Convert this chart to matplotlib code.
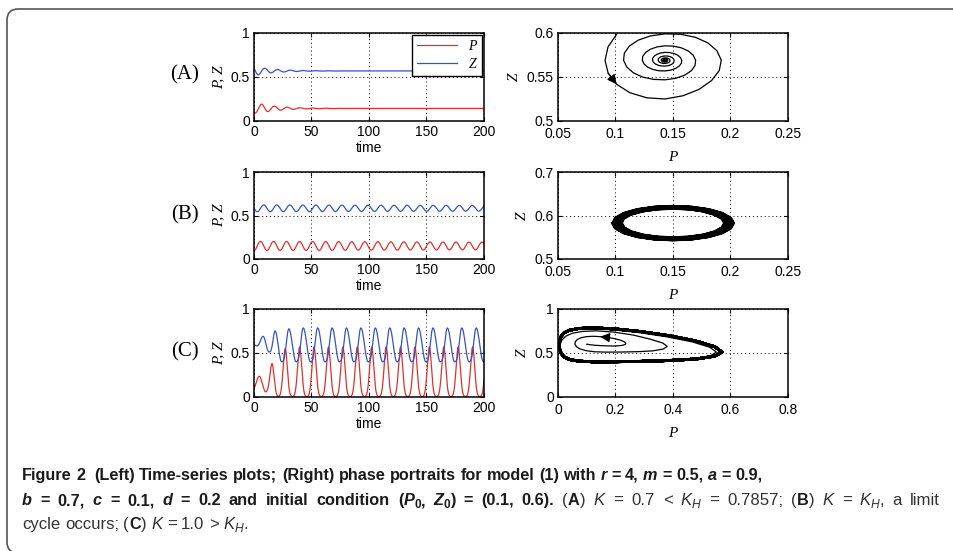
import numpy as np
import matplotlib
matplotlib.use('Agg')
import matplotlib.pyplot as plt
from matplotlib.patches import FancyBboxPatch
from matplotlib.ticker import FuncFormatter

# ---------------- values ----------------
# (A) K = 0.7 : damped oscillation, fine samples (dt = 5/9) up to t ~ 77, then settled values every 10
P_A = [.1009, .0935, .0909, .0936, .1010, .1126, .1271, .1430, .1587, .1727, .1835, .1902, .1920, .1882, .1803, .1693, .1564, .1430, .1304, .1198,
       .1120, .1077, .1070, .1098, .1156, .1237, .1331, .1430, .1523, .1602, .1659, .1691, .1697, .1676, .1633, .1573, .1503, .1430, .1361, .1303,
       .1261, .1237, .1233, .1248, .1280, .1324, .1376, .1430, .1481, .1524, .1555, .1573, .1576, .1565, .1541, .1508, .1470, .1430, .1392, .1361,
       .1337, .1324, .1322, .1330, .1348, .1372, .1400, .1430, .1458, .1481, .1499, .1508, .1510, .1504, .1491, .1473, .1452, .1430, .1409, .1392,
       .1379, .1372, .1371, .1376, .1385, .1398, .1414, .1430, .1445, .1458, .1468, .1473, .1474, .1470, .1463, .1453, .1442, .1430, .1419, .1409,
       .1402, .1398, .1398, .1400, .1405, .1413, .1421, .1430, .1438, .1445, .1451, .1453, .1454, .1452, .1448, .1443, .1437, .1430, .1424, .1419,
       .1415, .1413, .1412, .1414, .1417, .1421, .1425, .1430, .1435, .1438, .1441, .1443, .1443, .1442, .1440, .1437, .1434, .1430, .1427, .1424,
       .1430, .1430, .1430, .1430, .1430, .1430, .1430, .1430, .1430, .1430, .1430, .1430, .1430]
Z_A = [.5984, .5842, .5690, .5544, .5417, .5321, .5264, .5250, .5287, .5360, .5459, .5573, .5690, .5798, .5888, .5952, .5986, .5990, .5967, .5919,
       .5851, .5772, .5690, .5613, .5547, .5499, .5473, .5468, .5485, .5521, .5571, .5629, .5690, .5747, .5796, .5831, .5851, .5854, .5842, .5815,
       .5778, .5735, .5690, .5648, .5612, .5586, .5571, .5569, .5578, .5598, .5625, .5657, .5690, .5721, .5748, .5767, .5778, .5780, .5773, .5758,
       .5738, .5715, .5690, .5667, .5647, .5633, .5625, .5624, .5629, .5639, .5654, .5672, .5690, .5707, .5722, .5732, .5738, .5739, .5735, .5728,
       .5716, .5703, .5690, .5677, .5667, .5659, .5654, .5654, .5656, .5662, .5670, .5680, .5690, .5699, .5707, .5713, .5716, .5717, .5715, .5710,
       .5704, .5697, .5690, .5683, .5677, .5673, .5671, .5670, .5672, .5675, .5679, .5685, .5690, .5695, .5699, .5703, .5704, .5705, .5704, .5701,
       .5698, .5694, .5690, .5686, .5683, .5681, .5679, .5679, .5680, .5682, .5684, .5687, .5690, .5693, .5695, .5697, .5698, .5698, .5697, .5696,
       .5690, .5690, .5690, .5690, .5690, .5690, .5690, .5690, .5690, .5690, .5690, .5690, .5690]
t_A = np.concatenate([np.arange(140) * 5 / 9, np.arange(80, 201, 10)])

# (B) K = K_H : small sustained oscillation, 20 samples per period
P_B = [.0970, .0996, .1071, .1188, .1336, .15, .1664, .1812, .1929, .2004, .2030, .2004, .1929, .1812, .1664, .15, .1336, .1188, .1071, .0996,
       .0975, .1001, .1075, .1191, .1338, .15, .1662, .1809, .1925, .1999, .2025, .1999, .1925, .1809, .1662, .15, .1338, .1191, .1075, .1001,
       .0980, .1005, .1079, .1194, .1339, .15, .1661, .1806, .1921, .1995, .2020, .1995, .1921, .1806, .1661, .15, .1339, .1194, .1079, .1005,
       .0985, .1010, .1083, .1197, .1341, .15, .1659, .1803, .1917, .1990, .2015, .1990, .1917, .1803, .1659, .15, .1341, .1197, .1083, .1010,
       .0990, .1015, .1087, .1200, .1342, .15, .1658, .1800, .1913, .1985, .2010, .1985, .1913, .1800, .1658, .15, .1342, .1200, .1087, .1015,
       .0995, .1020, .1091, .1203, .1344, .15, .1656, .1797, .1909, .1980, .2005, .1980, .1909, .1797, .1656, .15, .1344, .1203, .1091, .1020,
       .1000, .1024, .1095, .1206, .1345, .15, .1655, .1794, .1905, .1976, .2000, .1976, .1905, .1794, .1655, .15, .1345, .1206, .1095, .1024,
       .1005, .1029, .1100, .1209, .1347, .15, .1653, .1791, .1900, .1971, .1995, .1971, .1900, .1791, .1653, .15, .1347, .1209, .1100, .1029,
       .1010, .1034, .1104, .1212, .1349, .15, .1651, .1788, .1896, .1966, .1990, .1966, .1896, .1788, .1651, .15, .1349, .1212, .1104, .1034,
       .1015, .1039, .1108, .1215, .1350, .15, .1650, .1785, .1892, .1961, .1985, .1961, .1892, .1785, .1650, .15, .1350, .1215, .1108, .1039,
       .1020, .1044, .1112, .1218, .1352, .15, .1648, .1782, .1888, .1956, .1980, .1956, .1888, .1782, .1648, .15, .1352, .1218, .1112, .1044,
       .1025, .1048, .1116, .1221, .1353, .15, .1647, .1779, .1884, .1952, .1975, .1952, .1884, .1779, .1647, .15, .1353, .1221, .1116, .1048,
       .1030, .1053, .1120, .1224, .1355, .15, .1645, .1776, .1880, .1947, .1970, .1947, .1880, .1776, .1645, .15, .1355, .1224, .1120, .1053,
       .1035, .1058, .1124, .1227, .1356, .15, .1644, .1773, .1876, .1942, .1965, .1942, .1876, .1773, .1644, .15, .1356, .1227, .1124, .1058,
       .1040, .1063, .1128, .1230, .1358, .15, .1642, .1770, .1872, .1937, .1960, .1937, .1872, .1770, .1642, .15, .1358, .1230, .1128, .1063,
       .1045, .1067, .1132, .1232, .1359, .15, .1641, .1768, .1868, .1933, .1955, .1933, .1868, .1768, .1641, .15, .1359, .1232, .1132, .1067,
       .1050, .1072, .1136, .1235, .1361, .15, .1639, .1765, .1864, .1928, .1950, .1928, .1864, .1765, .1639, .15, .1361, .1235, .1136, .1072,
       .1055, .1077, .1140, .1238, .1362, .15, .1638, .1762, .1860, .1923, .1945, .1923, .1860, .1762]
Z_B = [.5825, .5703, .5593, .5505, .5449, .5430, .5449, .5505, .5593, .5703, .5825, .5947, .6057, .6145, .6201, .6220, .6201, .6145, .6057, .5947,
       .5825, .5704, .5595, .5509, .5453, .5434, .5453, .5509, .5595, .5704, .5825, .5946, .6055, .6141, .6197, .6216, .6197, .6141, .6055, .5946,
       .5825, .5705, .5597, .5512, .5457, .5438, .5457, .5512, .5597, .5705, .5825, .5945, .6053, .6138, .6193, .6212, .6193, .6138, .6053, .5945,
       .5825, .5707, .5600, .5515, .5461, .5442, .5461, .5515, .5600, .5707, .5825, .5943, .6050, .6135, .6189, .6208, .6189, .6135, .6050, .5943,
       .5825, .5708, .5602, .5518, .5465, .5446, .5465, .5518, .5602, .5708, .5825, .5942, .6048, .6132, .6185, .6204, .6185, .6132, .6048, .5942,
       .5825, .5709, .5604, .5522, .5468, .5450, .5468, .5522, .5604, .5709, .5825, .5941, .6046, .6128, .6182, .6200, .6182, .6128, .6046, .5941,
       .5825, .5710, .5607, .5525, .5472, .5454, .5472, .5525, .5607, .5710, .5825, .5940, .6043, .6125, .6178, .6196, .6178, .6125, .6043, .5940,
       .5825, .5712, .5609, .5528, .5476, .5458, .5476, .5528, .5609, .5712, .5825, .5938, .6041, .6122, .6174, .6192, .6174, .6122, .6041, .5938,
       .5825, .5713, .5612, .5531, .5480, .5462, .5480, .5531, .5612, .5713, .5825, .5937, .6038, .6119, .6170, .6188, .6170, .6119, .6038, .5937,
       .5825, .5714, .5614, .5535, .5484, .5466, .5484, .5535, .5614, .5714, .5825, .5936, .6036, .6115, .6166, .6184, .6166, .6115, .6036, .5936,
       .5825, .5715, .5616, .5538, .5487, .5470, .5487, .5538, .5616, .5715, .5825, .5935, .6034, .6112, .6163, .6180, .6163, .6112, .6034, .5935,
       .5825, .5717, .5619, .5541, .5491, .5474, .5491, .5541, .5619, .5717, .5825, .5933, .6031, .6109, .6159, .6176, .6159, .6109, .6031, .5933,
       .5825, .5718, .5621, .5544, .5495, .5478, .5495, .5544, .5621, .5718, .5825, .5932, .6029, .6106, .6155, .6172, .6155, .6106, .6029, .5932,
       .5825, .5719, .5623, .5548, .5499, .5482, .5499, .5548, .5623, .5719, .5825, .5931, .6027, .6102, .6151, .6168, .6151, .6102, .6027, .5931,
       .5825, .5720, .5626, .5551, .5503, .5486, .5503, .5551, .5626, .5720, .5825, .5930, .6024, .6099, .6147, .6164, .6147, .6099, .6024, .5930,
       .5825, .5721, .5628, .5554, .5506, .5490, .5506, .5554, .5628, .5721, .5825, .5929, .6022, .6096, .6144, .6160, .6144, .6096, .6022, .5929,
       .5825, .5723, .5630, .5557, .5510, .5494, .5510, .5557, .5630, .5723, .5825, .5927, .6020, .6093, .6140, .6156, .6140, .6093, .6020, .5927,
       .5825, .5724, .5633, .5560, .5514, .5498, .5514, .5560, .5633, .5724, .5825, .5926, .6017, .6090]
t_B = np.linspace(0, 200, len(P_B))

# (C) K = 1.0 : spiral out to the limit cycle, 24 samples per period
P_C = [.100, .112, .128, .148, .170, .192, .211, .226, .234, .236, .230, .217, .197, .173, .147, .122, .099, .080, .067, .060,
       .059, .064, .076, .097, .126, .168, .220, .277, .329, .366, .380, .364, .320, .260, .193, .133, .084, .049, .027, .014,
       .008, .007, .011, .021, .040, .072, .122, .193, .281, .377, .466, .528, .551, .528, .466, .377, .281, .193, .122, .072, .040, .021, .011, .006,
       .004, .006, .011, .021, .040, .073, .125, .198, .289, .389, .481, .546, .570, .546, .481, .389, .289, .198, .125, .073, .040, .021, .011, .006,
       .004, .006, .011, .021, .040, .073, .125, .198, .289, .389, .481, .546, .570, .546, .481, .389, .289, .198, .125, .073, .040, .021, .011, .006,
       .004, .006, .011, .021, .040, .073, .125, .198, .289, .389, .481, .546, .570, .546, .481, .389, .289, .198, .125, .073, .040, .021, .011, .006,
       .004, .006, .011, .021, .040, .073, .125, .198, .289, .389, .481, .546, .570, .546, .481, .389, .289, .198, .125, .073, .040, .021, .011, .006,
       .004, .006, .011, .021, .040, .073, .125, .198, .289, .389, .481, .546, .570, .546, .481, .389, .289, .198, .125, .073, .040, .021, .011, .006,
       .004, .006, .011, .021, .040, .073, .125, .198, .289, .389, .481, .546, .570, .546, .481, .389, .289, .198, .125, .073, .040, .021, .011, .006,
       .004, .006, .011, .021, .040, .073, .125, .198, .289, .389, .481, .546, .570, .546, .481, .389, .289, .198, .125, .073, .040, .021, .011, .006,
       .004, .006, .011, .021, .040, .073, .125, .198, .289, .389, .481, .546, .570, .546, .481, .389, .289, .198, .125, .073, .040, .021, .011, .006,
       .004, .006, .011, .021, .040, .073, .125, .198, .289, .389, .481, .546, .570, .546, .481, .389, .289, .198, .125, .073, .040, .021, .011, .006,
       .004, .006, .011, .021, .040, .073, .125, .198, .289, .389, .481, .546, .570, .546, .481, .389, .289, .198, .125, .073, .040, .021, .011, .006,
       .004, .006, .011, .021, .040, .073, .125, .198, .289, .389, .481, .546, .570, .546, .481, .389, .289, .198, .125, .073, .040, .021, .011, .006,
       .004, .006, .011, .021, .040, .073, .125, .198, .289, .389, .481, .546, .570, .546, .481, .389, .289, .198, .125, .073, .040, .021, .011, .006,
       .004, .006, .011, .021, .040, .073, .125, .198, .289, .389, .481, .546, .570, .546, .481, .389, .289, .198, .125, .073, .040, .021, .011, .006,
       .004, .006, .011, .021, .040, .073, .125, .198]
Z_C = [.600, .594, .588, .584, .581, .580, .582, .588, .598, .612, .628, .646, .663, .677, .686, .690, .686, .673, .653, .628,
       .600, .572, .547, .527, .514, .510, .511, .515, .524, .545, .575, .614, .658, .705, .738, .752, .745, .724, .691, .649,
       .601, .551, .503, .461, .428, .407, .400, .401, .405, .415, .432, .465, .510, .565, .627, .685, .732, .763, .775, .769, .750, .720, .681, .636,
       .593, .543, .496, .456, .426, .407, .400, .401, .405, .415, .432, .465, .510, .570, .635, .695, .743, .774, .785, .779, .759, .729, .689, .642,
       .593, .543, .496, .456, .426, .407, .400, .401, .405, .415, .432, .465, .510, .570, .635, .695, .743, .774, .785, .779, .759, .729, .689, .642,
       .593, .543, .496, .456, .426, .407, .400, .401, .405, .415, .432, .465, .510, .570, .635, .695, .743, .774, .785, .779, .759, .729, .689, .642,
       .593, .543, .496, .456, .426, .407, .400, .401, .405, .415, .432, .465, .510, .570, .635, .695, .743, .774, .785, .779, .759, .729, .689, .642,
       .593, .543, .496, .456, .426, .407, .400, .401, .405, .415, .432, .465, .510, .570, .635, .695, .743, .774, .785, .779, .759, .729, .689, .642,
       .593, .543, .496, .456, .426, .407, .400, .401, .405, .415, .432, .465, .510, .570, .635, .695, .743, .774, .785, .779, .759, .729, .689, .642,
       .593, .543, .496, .456, .426, .407, .400, .401, .405, .415, .432, .465, .510, .570, .635, .695, .743, .774, .785, .779, .759, .729, .689, .642,
       .593, .543, .496, .456, .426, .407, .400, .401, .405, .415, .432, .465, .510, .570, .635, .695, .743, .774, .785, .779, .759, .729, .689, .642,
       .593, .543, .496, .456, .426, .407, .400, .401, .405, .415, .432, .465, .510, .570, .635, .695, .743, .774, .785, .779, .759, .729, .689, .642,
       .593, .543, .496, .456, .426, .407, .400, .401, .405, .415, .432, .465, .510, .570, .635, .695, .743, .774, .785, .779, .759, .729, .689, .642,
       .593, .543, .496, .456, .426, .407, .400, .401, .405, .415, .432, .465, .510, .570, .635, .695, .743, .774, .785, .779, .759, .729, .689, .642,
       .593, .543, .496, .456, .426, .407, .400, .401, .405, .415, .432, .465, .510, .570, .635, .695, .743, .774, .785, .779, .759, .729, .689, .642,
       .593, .543, .496, .456, .426, .407, .400, .401, .405, .415, .432, .465, .510, .570, .635, .695, .743, .774, .785, .779, .759, .729, .689, .642,
       .593, .543, .496, .456, .426, .407, .400, .401]
t_C = np.linspace(0, 200, len(P_C))

row_labels = ['(A)', '(B)', '(C)']
series = [(t_A, P_A, Z_A), (t_B, P_B, Z_B), (t_C, P_C, Z_C)]
phase_xlim = [(0.05, 0.25), (0.05, 0.25), (0, 0.8)]
phase_ylim = [(0.5, 0.6), (0.5, 0.7), (0, 1)]
phase_xticks = [[0.05, 0.1, 0.15, 0.2, 0.25], [0.05, 0.1, 0.15, 0.2, 0.25], [0, 0.2, 0.4, 0.6, 0.8]]
phase_yticks = [[0.5, 0.55, 0.6], [0.5, 0.6, 0.7], [0, 0.5, 1]]

RED = '#e0302c'
BLUE = '#3554c0'
W, H = 954, 551

plt.rcParams['font.family'] = ['Liberation Sans', 'DejaVu Sans']
plt.rcParams['font.size'] = 10
fig = plt.figure(figsize=(W / 100, H / 100), dpi=100)


def box(x0, y0, x1, y1):
    return [x0 / W, 1 - y1 / H, (x1 - x0) / W, (y1 - y0) / H]


serif_it = dict(family='Liberation Serif', style='italic', size=11)
fmt = FuncFormatter(lambda v, pos: '%g' % v)


def matlab_axes(ax, xpad=3):
    ax.tick_params(direction='in', top=True, right=True, length=3, width=0.8, labelsize=10, pad=3)
    ax.tick_params(axis='x', pad=xpad)
    ax.grid(True, color='k', ls=(0, (1, 3)), lw=0.7)
    for s in ax.spines.values():
        s.set_linewidth(1.1)
    ax.xaxis.set_major_formatter(fmt)
    ax.yaxis.set_major_formatter(fmt)


rows_y = [(33, 121), (172, 259), (309, 397)]
label_y = [75, 215, 352]

for k in range(3):
    y0, y1 = rows_y[k]
    t, P, Z = series[k]

    # time series
    ax = fig.add_axes(box(254, y0, 484, y1))
    lp, = ax.plot(t, P, color=RED, lw=0.9)
    lz, = ax.plot(t, Z, color=BLUE, lw=0.9)
    ax.set_xlim(0, 200)
    ax.set_ylim(0, 1)
    ax.set_xticks([0, 50, 100, 150, 200])
    ax.set_yticks([0, 0.5, 1])
    matlab_axes(ax)
    ax.set_xlabel('time', labelpad=1)
    ax.set_ylabel('P, Z', labelpad=4, **serif_it)
    if k == 0:
        ax.legend([lp, lz], ['P', 'Z'], loc='upper right', prop=dict(family='Liberation Serif', style='italic', size=10),
                  fancybox=False, edgecolor='k', framealpha=1, borderaxespad=0.15, handlelength=2.9,
                  labelspacing=0.35, borderpad=0.35)
    fig.text(185 / W, 1 - label_y[k] / H, row_labels[k], family='Liberation Serif', size=15,
             ha='center', va='center')

    # phase portrait
    bx = fig.add_axes(box(558, y0, 788, y1))
    if k == 0:
        bx.plot(P, Z, color='k', lw=0.9)
        bx.annotate('', xy=(P[4], Z[4]), xytext=(P[3], Z[3]),
                    arrowprops=dict(arrowstyle='-|>', color='k', lw=0.9, mutation_scale=14, shrinkA=0, shrinkB=0))
    elif k == 1:
        bx.plot(P, Z, color='k', lw=1.6)
    else:
        bx.plot(P[:64], Z[:64], color='k', lw=0.9)
        bx.plot(P[63:], Z[63:], color='k', lw=2.0)
        bx.annotate('', xy=(P[14], Z[14]), xytext=(P[13], Z[13]),
                    arrowprops=dict(arrowstyle='-|>', color='k', lw=0.9, mutation_scale=14, shrinkA=0, shrinkB=0))
    bx.set_xlim(*phase_xlim[k])
    bx.set_ylim(*phase_ylim[k])
    bx.set_xticks(phase_xticks[k])
    bx.set_yticks(phase_yticks[k])
    matlab_axes(bx, xpad=4.5)
    bx.set_xlabel('P', labelpad=7, **serif_it)
    bx.set_ylabel('Z', labelpad=4, **serif_it)

# rounded frame around the figure
frame = FancyBboxPatch((0.07, -0.02), 10.0, 5.44, boxstyle='round,pad=0,rounding_size=0.11',
                       transform=fig.dpi_scale_trans, fc='none', ec='#555555', lw=1.2)
fig.add_artist(frame)

# caption, set word by word (bold / light, italic, subscripts); line 2 is justified
cap_family = ['Liberation Sans Narrow', 'Liberation Sans']
sizes = {'bold': 11.7, 'normal': 12.1}
kinds = {'b': ('bold', 'normal', '#1b1b1b'), 'bi': ('bold', 'italic', '#1b1b1b'),
         'l': ('normal', 'normal', '#333333'), 'li': ('normal', 'italic', '#333333')}
renderer = fig.canvas.get_renderer()


def width_of(s, weight, style, size):
    tt = fig.text(0, 0, s, family=cap_family, weight=weight, style=style, size=size)
    w = tt.get_window_extent(renderer).width
    tt.remove()
    return w


def tokens(pieces):
    # -> list of ('w', text, weight, style, col, size, dy, width) and ('s', width)
    out = []
    for s, kind in pieces:
        sub = kind.endswith('_')
        weight, style, col = kinds[kind.rstrip('_')]
        size = sizes[weight] * (0.72 if sub else 1.0)
        dy = 3.5 if sub else 0
        sp = width_of('n n', weight, style, size) - width_of('nn', weight, style, size)
        parts = s.split(' ')
        for i, p in enumerate(parts):
            if i > 0:
                out.append(('s', sp))
            if p:
                out.append(('w', p, weight, style, col, size, dy, width_of(p, weight, style, size)))
    return out


def put_line(pieces, x, y, right=None):
    toks = tokens(pieces)
    extra = 0
    if right is not None:
        natural = sum(tk[1] if tk[0] == 's' else tk[7] for tk in toks)
        nsp = sum(1 for tk in toks if tk[0] == 's')
        extra = (right - x - natural) / nsp
    for tk in toks:
        if tk[0] == 's':
            x += tk[1] + extra
        else:
            _, p, weight, style, col, size, dy, w = tk
            fig.text(x / W, 1 - (y + dy) / H, p, family=cap_family, weight=weight, style=style,
                     size=size, color=col, ha='left', va='baseline')
            x += w


line1 = [('Figure 2  (Left) Time-series plots; (Right) phase portraits for model (1) with ', 'b'),
         ('r', 'bi'), (' = 4, ', 'b'), ('m', 'bi'), (' = 0.5, ', 'b'), ('a', 'bi'), (' = 0.9,', 'b')]
line2 = [('b', 'bi'), (' = 0.7, ', 'b'), ('c', 'bi'), (' = 0.1, ', 'b'), ('d', 'bi'),
         (' = 0.2 and initial condition (', 'b'), ('P', 'bi'), ('0', 'b_'), (', ', 'b'), ('Z', 'bi'), ('0', 'b_'),
         (') = (0.1, 0.6). ', 'b'), ('(', 'l'), ('A', 'b'), (') ', 'l'), ('K', 'li'), (' = 0.7 < ', 'l'),
         ('K', 'li'), ('H', 'li_'), (' = 0.7857; (', 'l'), ('B', 'b'), (') ', 'l'), ('K', 'li'), (' = ', 'l'),
         ('K', 'li'), ('H', 'li_'), (', a limit', 'l')]
line3 = [('cycle occurs; (', 'l'), ('C', 'b'), (') ', 'l'), ('K', 'li'), (' = 1.0 > ', 'l'), ('K', 'li'),
         ('H', 'li_'), ('.', 'l')]

put_line(line1, 22, 480)
put_line(line2, 22, 505, right=940)
put_line(line3, 22, 529)

fig.savefig('out.png', dpi=100)
